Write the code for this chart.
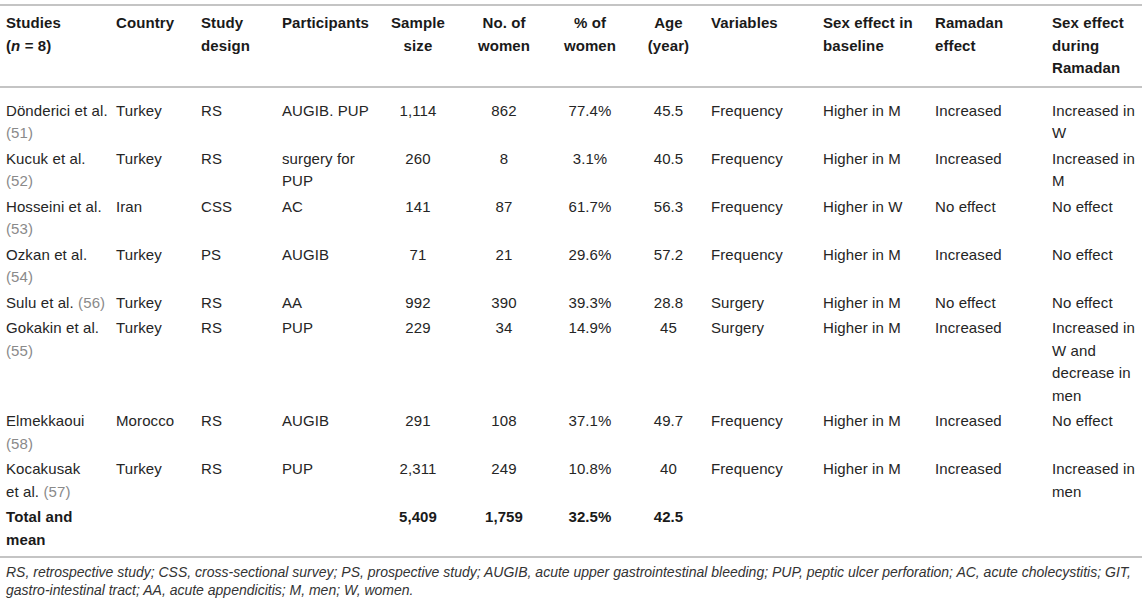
<!DOCTYPE html>
<html>
<head>
<meta charset="utf-8">
<script src="https://cdn.jsdelivr.net/npm/chart.js@4"></script>
<style>
  html, body { margin: 0; padding: 0; background: #fff; }
  body { width: 1146px; height: 605px; overflow: hidden; font-family: "Liberation Sans", Arial, Helvetica, sans-serif; color: #252525; }
  table { border-collapse: collapse; table-layout: fixed; width: 1142px; margin-top: 4px; font-size: 15px; line-height: 22.5px; letter-spacing: 0.1px; }
  th, td { vertical-align: top; text-align: left; padding: 1.5px 1px 1.5px 6px; }
  th { font-weight: bold; color: #1a1a1a; padding-right: 4px; }
  td:first-child { padding-right: 0; }
  thead tr { border-top: 2px solid #c4c4c4; border-bottom: 2px solid #c4c4c4; }
  thead th { padding-top: 6px; padding-bottom: 6px; }
  tbody tr:first-child td { padding-top: 12px; }
  tbody tr:last-child td { padding-bottom: 5px; }
  tbody tr:last-child { border-bottom: 2px solid #c4c4c4; }
  .c { text-align: center; padding-left: 2px; padding-right: 2px; }
  th.c { padding-left: 2px; padding-right: 2px; }
  .ref { color: #8a8a8a; }
  .total td { font-weight: bold; color: #1a1a1a; }
  .note { font-style: italic; font-size: 14px; line-height: 18px; padding: 5px 0 0 6px; color: #333; width: 1136px; }
  .nw { white-space: nowrap; }
</style>
</head>
<body>
<table id="tbl">
  <colgroup id="cols"></colgroup>
  <thead><tr id="head"></tr></thead>
  <tbody id="body"></tbody>
</table>
<div class="note" id="note"></div>
<script>
// column headers
const headers = ["Studies (n = 8)", "Country", "Study design", "Participants", "Sample size",
  "No. of women", "% of women", "Age (year)", "Variables", "Sex effect in baseline",
  "Ramadan effect", "Sex effect during Ramadan"];

// rows
const studies = ["Dönderici et al.", "Kucuk et al.", "Hosseini et al.", "Ozkan et al.",
  "Sulu et al.", "Gokakin et al.", "Elmekkaoui", "Kocakusak et al."];
const refs = ["51", "52", "53", "54", "56", "55", "58", "57"];
const countries = ["Turkey", "Turkey", "Iran", "Turkey", "Turkey", "Turkey", "Morocco", "Turkey"];
const designs = ["RS", "RS", "CSS", "PS", "RS", "RS", "RS", "RS"];
const participants = ["AUGIB. PUP", "surgery for PUP", "AC", "AUGIB", "AA", "PUP", "AUGIB", "PUP"];
const sampleSizes = ["1,114", "260", "141", "71", "992", "229", "291", "2,311"];
const women = ["862", "8", "87", "21", "390", "34", "108", "249"];
const womenPct = ["77.4%", "3.1%", "61.7%", "29.6%", "39.3%", "14.9%", "37.1%", "10.8%"];
const ages = ["45.5", "40.5", "56.3", "57.2", "28.8", "45", "49.7", "40"];
const variables = ["Frequency", "Frequency", "Frequency", "Frequency", "Surgery", "Surgery", "Frequency", "Frequency"];
const baseline = ["Higher in M", "Higher in M", "Higher in W", "Higher in M", "Higher in M", "Higher in M", "Higher in M", "Higher in M"];
const ramadan = ["Increased", "Increased", "No effect", "Increased", "No effect", "Increased", "Increased", "Increased"];
const during = ["Increased in W", "Increased in M", "No effect", "No effect", "No effect",
  "Increased in W and decrease in men", "No effect", "Increased in men"];

// totals row
const totals = ["Total and mean", "", "", "", "5,409", "1,759", "32.5%", "42.5", "", "", "", ""];

const footnote = "RS, retrospective study; CSS, cross-sectional survey; PS, prospective study; AUGIB, acute upper gastrointestinal bleeding; PUP, peptic ulcer perforation; AC, acute cholecystitis; GIT, gastro-intestinal tract; AA, acute appendicitis; M, men; W, women.";

const colWidths = [110, 85, 81, 100, 84, 88, 84, 73, 112, 112, 117, 96];
const centered = [4, 5, 6, 7];

const cols = document.getElementById("cols");
colWidths.forEach((w) => {
  const c = document.createElement("col");
  c.style.width = w + "px";
  cols.appendChild(c);
});

const span = (cls, text) => {
  const el = document.createElement("span");
  el.className = cls;
  el.textContent = text;
  return el;
};

const head = document.getElementById("head");
headers.forEach((h, i) => {
  const th = document.createElement("th");
  if (centered.includes(i)) th.className = "c";
  if (i === 0) {
    // "(n = 8)" with an italic n, kept on its own line
    th.appendChild(document.createTextNode("Studies "));
    const sub = document.createElement("span");
    sub.className = "nw";
    sub.innerHTML = "(<i>n</i> = 8)";
    th.appendChild(sub);
  } else {
    th.textContent = h;
  }
  head.appendChild(th);
});

const body = document.getElementById("body");
const addCell = (tr, text, i) => {
  const td = document.createElement("td");
  if (centered.includes(i)) td.className = "c";
  td.textContent = text;
  tr.appendChild(td);
  return td;
};

studies.forEach((s, r) => {
  const tr = document.createElement("tr");
  const first = addCell(tr, "", 0);
  // "et al." stays on one line, like the printed table
  const k = s.indexOf(" et al.");
  if (k >= 0) {
    first.appendChild(document.createTextNode(s.slice(0, k) + " "));
    first.appendChild(span("nw", "et al."));
  } else {
    first.appendChild(document.createTextNode(s));
  }
  first.appendChild(document.createTextNode(" "));
  first.appendChild(span("ref", "(" + refs[r] + ")"));
  const rest = [countries[r], designs[r], participants[r], sampleSizes[r], women[r],
    womenPct[r], ages[r], variables[r], baseline[r], ramadan[r], during[r]];
  rest.forEach((v, i) => addCell(tr, v, i + 1));
  body.appendChild(tr);
});

const totalRow = document.createElement("tr");
totalRow.className = "total";
totals.forEach((v, i) => addCell(totalRow, v, i));
body.appendChild(totalRow);

// keep the hyphenated word whole, as in the reference
const note = document.getElementById("note");
const word = "gastro-intestinal";
const cut = footnote.indexOf(word);
note.appendChild(document.createTextNode(footnote.slice(0, cut)));
note.appendChild(span("nw", word));
note.appendChild(document.createTextNode(footnote.slice(cut + word.length)));
</script>
</body>
</html>
